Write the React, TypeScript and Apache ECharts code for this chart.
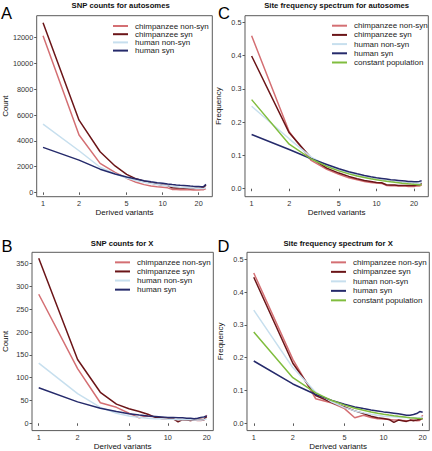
import React, { useEffect, useRef } from "react";
import * as echarts from "echarts";

// ---------- data ----------
const xAuto = [1, 2, 3, 4, 5, 6, 7, 8, 9, 10, 11, 12, 13, 14, 15, 16, 17, 18, 19, 20, 21, 22, 23];
const xChrX = [1, 2, 3, 4, 5, 6, 7, 8, 9, 10, 11, 12, 13, 14, 15, 16, 17, 18, 19, 20];
const xTicks = [1, 2, 5, 10, 20];

const seriesNames = ["chimpanzee non-syn", "chimpanzee syn", "human non-syn", "human syn", "constant population"];
const seriesColors = ["#d46f73", "#6b1518", "#c7dfee", "#252a6b", "#80bd3e"];

// A: SNP counts for autosomes
const countAutoChimpNonSyn = [12150, 4450, 2250, 1550, 1100, 780, 600, 500, 430, 390, 350, 230, 220, 210, 200, 200, 195, 190, 190, 190, 200, 210, 300];
const countAutoChimpSyn = [13160, 5600, 3150, 2050, 1400, 1050, 860, 720, 630, 570, 530, 360, 340, 330, 320, 310, 305, 300, 310, 320, 340, 380, 570];
const countAutoHumanNonSyn = [5300, 3230, 1950, 1450, 1120, 920, 790, 690, 610, 555, 505, 465, 435, 405, 385, 365, 345, 335, 325, 315, 305, 305, 350];
const countAutoHumanSyn = [3490, 2500, 1800, 1430, 1200, 1030, 910, 820, 750, 700, 650, 610, 575, 545, 525, 505, 485, 470, 460, 450, 440, 450, 620];
const countAutoTicks = [0, 2000, 4000, 6000, 8000, 10000, 12000];

// B: SNP counts for X
const countXChimpNonSyn = [283, 120, 45, 35, 22, 12, 16, 14, 10, 9, 9, 7, 8, 7, 6, 7, 6, 6, 7, 18];
const countXChimpSyn = [362, 140, 68, 42, 32, 26, 20, 13, 12, 11, 10, 3, 8, 7, 6, 8, 9, 9, 8, 15];
const countXHumanNonSyn = [132, 65, 35, 22, 16, 13, 11, 10, 10, 9, 9, 8, 8, 8, 8, 7, 7, 7, 8, 10];
const countXHumanSyn = [78, 47, 33, 26, 21, 18, 16, 15, 14, 13, 13, 12, 12, 11, 11, 10, 11, 13, 14, 16];
const countXTicks = [0, 50, 100, 150, 200, 250, 300, 350];

// C: Site frequency spectrum for autosomes
const sfsAutoChimpNonSyn = [0.46, 0.171, 0.085, 0.058, 0.043, 0.033, 0.027, 0.022, 0.019, 0.017, 0.016, 0.01, 0.009, 0.009, 0.008, 0.008, 0.008, 0.007, 0.007, 0.007, 0.008, 0.008, 0.011];
const sfsAutoChimpSyn = [0.399, 0.168, 0.092, 0.062, 0.047, 0.037, 0.03, 0.025, 0.022, 0.019, 0.018, 0.012, 0.011, 0.011, 0.01, 0.01, 0.01, 0.01, 0.01, 0.01, 0.011, 0.012, 0.016];
const sfsAutoHumanNonSyn = [0.248, 0.15, 0.095, 0.07, 0.056, 0.047, 0.04, 0.035, 0.031, 0.028, 0.026, 0.024, 0.022, 0.021, 0.02, 0.019, 0.018, 0.017, 0.017, 0.016, 0.016, 0.016, 0.019];
const sfsAutoHumanSyn = [0.163, 0.118, 0.09, 0.073, 0.06, 0.051, 0.045, 0.04, 0.036, 0.033, 0.031, 0.029, 0.027, 0.026, 0.025, 0.024, 0.023, 0.022, 0.022, 0.021, 0.021, 0.022, 0.024];
const sfsAutoConstant = [0.2678, 0.1339, 0.0893, 0.067, 0.0536, 0.0446, 0.0383, 0.0335, 0.0298, 0.0268, 0.0243, 0.0223, 0.0206, 0.0191, 0.0179, 0.0167, 0.0158, 0.0149, 0.0141, 0.0134, 0.0128, 0.0122, 0.0116];

// D: Site frequency spectrum for X
const sfsXChimpNonSyn = [0.458, 0.195, 0.075, 0.062, 0.045, 0.017, 0.025, 0.018, 0.014, 0.013, 0.012, 0.01, 0.01, 0.009, 0.008, 0.009, 0.01, 0.008, 0.009, 0.025];
const sfsXChimpSyn = [0.445, 0.183, 0.085, 0.063, 0.05, 0.038, 0.03, 0.022, 0.017, 0.015, 0.012, 0.003, 0.01, 0.008, 0.006, 0.01, 0.008, 0.01, 0.012, 0.015];
const sfsXHumanNonSyn = [0.345, 0.17, 0.095, 0.065, 0.048, 0.038, 0.032, 0.028, 0.025, 0.022, 0.021, 0.02, 0.019, 0.018, 0.018, 0.017, 0.017, 0.017, 0.018, 0.02];
const sfsXHumanSyn = [0.19, 0.12, 0.088, 0.07, 0.058, 0.05, 0.045, 0.041, 0.038, 0.035, 0.033, 0.031, 0.029, 0.027, 0.025, 0.025, 0.027, 0.03, 0.036, 0.034];
const sfsXConstant = [0.278, 0.139, 0.0927, 0.0695, 0.0556, 0.0463, 0.0397, 0.0347, 0.0309, 0.0278, 0.0253, 0.0232, 0.0214, 0.0199, 0.0185, 0.0174, 0.0164, 0.0154, 0.0146, 0.0139];
const sfsTicks = [0, 0.1, 0.2, 0.3, 0.4, 0.5];

const panelTitles = ["SNP counts for autosomes", "Site frequency spectrum for autosomes", "SNP counts for X", "Site frequency spectrum for X"];
const panelLetters = ["A", "C", "B", "D"];

// ---------- layout ----------
const FONT = "'Liberation Sans', Arial, Helvetica, sans-serif";
const panels = [
  { left: 29, top: 15.7, width: 183.3, height: 181, xMin: 0.885, xMax: 26, yMin: -336, yMax: 13706, yTicks: countAutoTicks, yName: "Count", dec: 0,
    x: xAuto, ys: [countAutoChimpNonSyn, countAutoChimpSyn, countAutoHumanNonSyn, countAutoHumanSyn],
    legend: { left: 113, top: 21.9, lh: 8.2 }, letter: { x: 1, y: 11 }, titleY: 1.5 },
  { left: 245, top: 15.7, width: 183.3, height: 181, xMin: 0.885, xMax: 26, yMin: -0.024, yMax: 0.52, yTicks: sfsTicks, yName: "Frequency", dec: 1,
    x: xAuto, ys: [sfsAutoChimpNonSyn, sfsAutoChimpSyn, sfsAutoHumanNonSyn, sfsAutoHumanSyn, sfsAutoConstant],
    legend: { left: 332, top: 21.1, lh: 9.2 }, letter: { x: 218, y: 11 }, titleY: 1.5 },
  { left: 31, top: 252.3, width: 182.3, height: 181, xMin: 0.887, xMax: 22.5, yMin: -16, yMax: 375, yTicks: countXTicks, yName: "Count", dec: 0,
    x: xChrX, ys: [countXChimpNonSyn, countXChimpSyn, countXHumanNonSyn, countXHumanSyn],
    legend: { left: 115, top: 257.8, lh: 9.1 }, letter: { x: 1.5, y: 244 }, titleY: 239.5 },
  { left: 247, top: 252.3, width: 182.3, height: 181, xMin: 0.887, xMax: 22.5, yMin: -0.022, yMax: 0.521, yTicks: sfsTicks, yName: "Frequency", dec: 1,
    x: xChrX, ys: [sfsXChimpNonSyn, sfsXChimpSyn, sfsXHumanNonSyn, sfsXHumanSyn, sfsXConstant],
    legend: { left: 331, top: 257.6, lh: 9.5 }, letter: { x: 217.5, y: 244 }, titleY: 239.5 },
];

function buildOption() {
  const grid: any[] = [];
  const xAxis: any[] = [];
  const yAxis: any[] = [];
  const series: any[] = [];
  const legend: any[] = [];
  const title: any[] = [];
  const graphic: any[] = [];

  panels.forEach((p, i) => {
    grid.push({
      left: p.left, top: p.top, width: p.width, height: p.height,
      show: true, borderColor: "#5a5a5a", borderWidth: 1, backgroundColor: "transparent",
    });
    xAxis.push({
      type: "log", gridIndex: i, logBase: 10, min: p.xMin, max: p.xMax,
      axisLine: { show: false }, splitLine: { show: false }, minorTick: { show: false },
      axisTick: { show: true, customValues: xTicks, length: 2.5, lineStyle: { color: "#5a5a5a", width: 1 } },
      axisLabel: { customValues: xTicks, fontSize: 7.3, color: "#333", margin: 3.5, fontFamily: FONT, formatter: (v: number) => String(Math.round(v)) },
      name: "Derived variants", nameLocation: "middle", nameGap: 11,
      nameTextStyle: { fontSize: 8, color: "#111", fontFamily: FONT },
    });
    yAxis.push({
      type: "value", gridIndex: i, min: p.yMin, max: p.yMax,
      axisLine: { show: false }, splitLine: { show: false },
      axisTick: { show: true, customValues: p.yTicks, length: 2.5, lineStyle: { color: "#5a5a5a", width: 1 } },
      axisLabel: { customValues: p.yTicks, fontSize: 7.3, color: "#333", margin: 3.5, fontFamily: FONT,
        formatter: (v: number) => (p.dec ? v.toFixed(p.dec) : String(Math.round(v))) },
      name: p.yName, nameLocation: "middle", nameGap: 23,
      nameTextStyle: { fontSize: 8, color: "#111", fontFamily: FONT },
    });
    p.ys.forEach((vals, k) => {
      series.push({
        type: "line", name: seriesNames[k], xAxisIndex: i, yAxisIndex: i,
        data: p.x.map((xv, j) => [xv, vals[j]]),
        showSymbol: false, symbol: "none",
        lineStyle: { color: seriesColors[k], width: 1.5 },
        itemStyle: { color: seriesColors[k] },
        z: 2 + k,
      });
    });
    legend.push({
      orient: "vertical", left: p.legend.left, top: p.legend.top, padding: 0,
      itemWidth: 15, itemHeight: 2, itemGap: 0, icon: "rect",
      data: seriesNames.slice(0, p.ys.length),
      textStyle: { fontSize: 8, lineHeight: p.legend.lh, color: "#222", fontFamily: FONT, padding: [0, 0, 0, 2] },
    });
    title.push({
      text: panelTitles[i], left: p.left + p.width / 2, top: p.titleY, textAlign: "center", padding: 0,
      textStyle: { fontSize: 7.7, fontWeight: "bold", color: "#111", fontFamily: FONT },
    });
    graphic.push({
      type: "text", left: p.letter.x, top: p.letter.y - 7,
      style: { text: panelLetters[i], fontSize: 16.5, fill: "#000", fontFamily: FONT },
    });
  });

  return { animation: false, backgroundColor: "#fff", grid, xAxis, yAxis, series, legend, title, graphic };
}

export default function App() {
  const ref = useRef<HTMLDivElement>(null);
  useEffect(() => {
    if (!ref.current) return;
    const chart = echarts.init(ref.current, undefined, { renderer: "svg" });
    chart.setOption(buildOption() as any);
    return () => chart.dispose();
  }, []);
  return <div ref={ref} style={{ position: "fixed", left: 0, top: 0, width: 432, height: 451 }} />;
}
